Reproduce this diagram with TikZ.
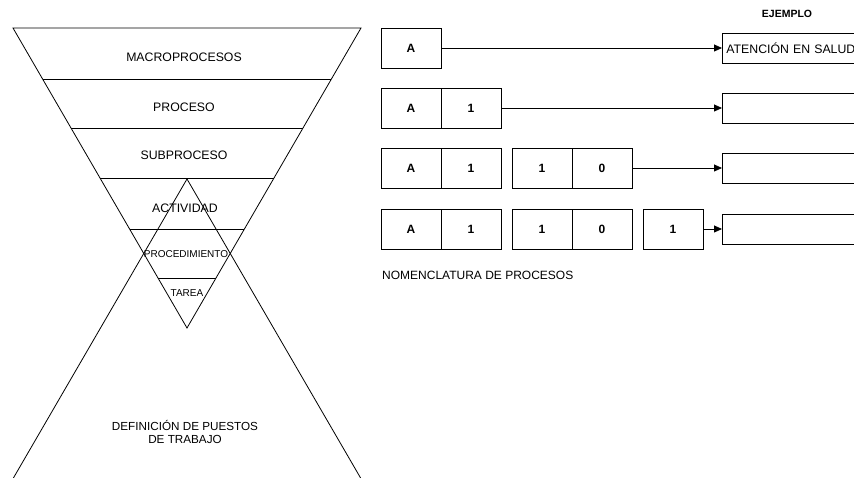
\documentclass[tikz,border=0pt]{standalone}
\usepackage{fontspec}
\setmainfont{Liberation Sans}
\usetikzlibrary{arrows.meta}
\begin{document}
\begin{tikzpicture}[x=1pt,y=-1pt,
  lbl/.style={font=\fontsize{12.3}{14}\selectfont, inner sep=0pt},
  lblsmall/.style={font=\fontsize{10}{12}\selectfont, inner sep=0pt},
  codebox/.style={draw, line width=0.8pt, minimum width=60pt, minimum height=40pt,
    inner sep=0pt, font=\fontsize{12}{14}\selectfont\bfseries},
  target/.style={draw, line width=0.8pt, minimum height=30pt, text width=170pt,
    align=left, inner sep=4pt, anchor=west, font=\fontsize{12.3}{14}\selectfont},
  link/.style={line width=0.8pt, -{Triangle[length=8pt,width=7pt]}},
  edgeline/.style={line width=0.8pt, line join=miter}
]
\useasboundingbox (0,0) rectangle (854,478);

% inverted pyramid of process levels
\coordinate (tl) at (13,28);
\coordinate (tr) at (361,28);
\coordinate (ap) at (187,328);
\draw[edgeline] (tl) -- (tr) -- (ap) -- cycle;
\foreach \y in {79,128,178,229,278}
  \draw[edgeline] ({13+0.58*(\y-28)},\y) -- ({361-0.58*(\y-28)},\y);

% upright triangle of job definitions
\coordinate (up) at (187,179);
\coordinate (bl) at (13.4,478);
\coordinate (br) at (360.6,478);
\draw[edgeline] (bl) -- (up) -- (br);

\node[lbl] (macro) at (184,57) {MACROPROCESOS};
\node[lbl] (proc) at (184,107) {PROCESO};
\node[lbl] (subp) at (184,155) {SUBPROCESO};
\node[lbl] (activ) at (185,208) {ACTIVIDAD};
\node[lblsmall] (proced) at (186,254) {PROCEDIMIENTO};
\node[lblsmall] (tarea) at (187,293) {TAREA};
\node[align=center, inner sep=0pt, font=\fontsize{11.7}{13}\selectfont] (puestos) at (185,432)
  {DEFINICIÓN DE PUESTOS\\DE TRABAJO};

% nomenclature codes
\node[font=\fontsize{10.5}{12}\selectfont\bfseries, inner sep=0pt] (ejemplo) at (787,14) {EJEMPLO};

\node[codebox] (a1) at (411,48) {A};
\node[target] (t1) at (722,48) {ATENCIÓN EN SALUD};
\draw[link] (a1) -- (t1);

\node[codebox] (a2) at (411,108) {A};
\node[codebox] (b2) at (471,108) {1};
\node[target] (t2) at (722,108) {};
\draw[link] (b2) -- (t2);

\node[codebox] (a3) at (411,168) {A};
\node[codebox] (b3) at (471,168) {1};
\node[codebox] (c3) at (542,168) {1};
\node[codebox] (d3) at (602,168) {0};
\node[target] (t3) at (722,168) {};
\draw[link] (d3) -- (t3);

\node[codebox] (a4) at (411,229) {A};
\node[codebox] (b4) at (471,229) {1};
\node[codebox] (c4) at (542,229) {1};
\node[codebox] (d4) at (602,229) {0};
\node[codebox] (e4) at (673,229) {1};
\node[target] (t4) at (722,229) {};
\draw[link] (e4) -- (t4);

\node[anchor=west, inner sep=0pt, font=\fontsize{12}{14}\selectfont] (nomen) at (382,275)
  {NOMENCLATURA DE PROCESOS};
\end{tikzpicture}
\end{document}
